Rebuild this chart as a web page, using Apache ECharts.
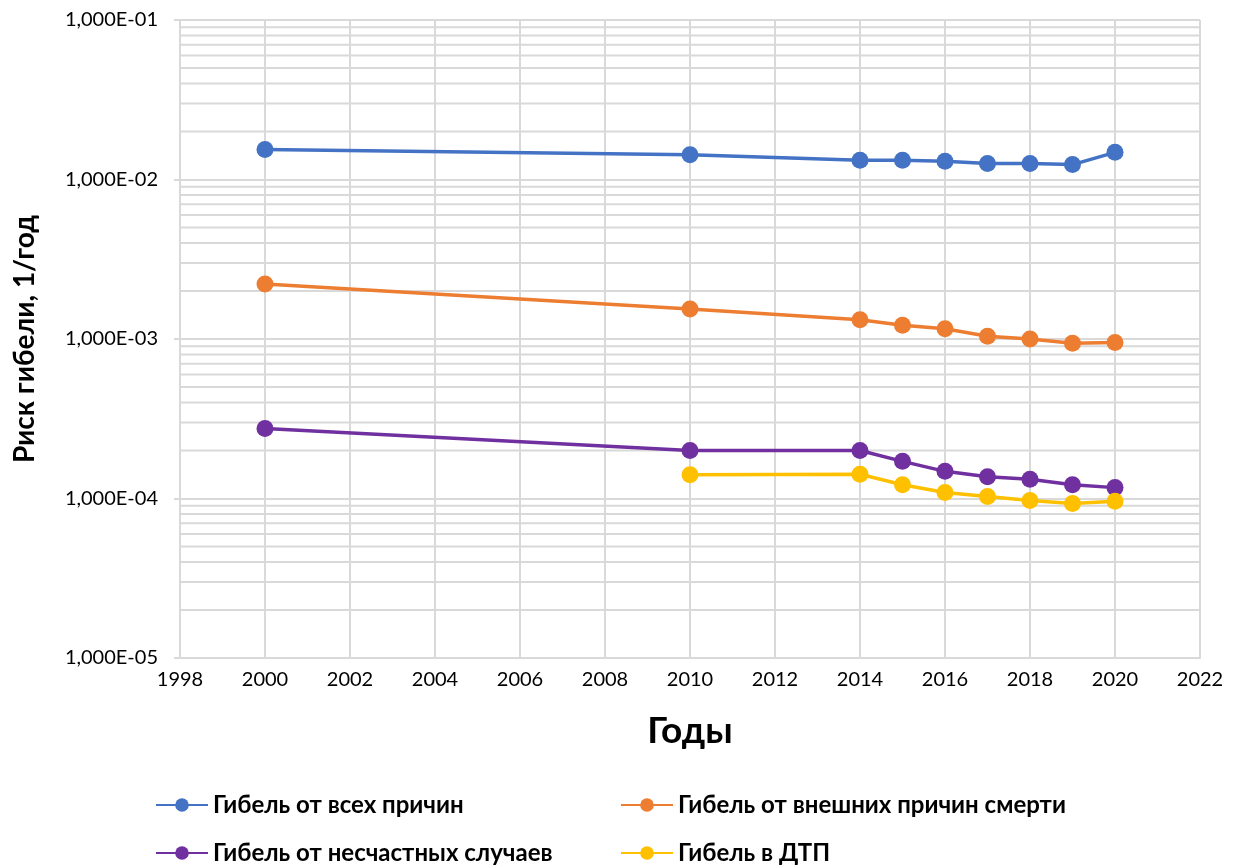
<!DOCTYPE html>
<html>
<head>
<meta charset="utf-8">
<title>Риск гибели</title>
<script src="https://cdn.jsdelivr.net/npm/echarts@6/dist/echarts.min.js"></script>
<style>
  html, body { margin: 0; padding: 0; background: #fff; }
  #chart { width: 1235px; height: 867px; }
</style>
</head>
<body>
<div id="chart"></div>
<script>
// Годы наблюдений
const years = [2000, 2010, 2014, 2015, 2016, 2017, 2018, 2019, 2020];
const yearsRoad = [2010, 2014, 2015, 2016, 2017, 2018, 2019, 2020];

// Риск гибели, 1/год
const allCauses = [1.54e-2, 1.43e-2, 1.32e-2, 1.32e-2, 1.30e-2, 1.26e-2, 1.26e-2, 1.24e-2, 1.48e-2];
const externalCauses = [2.21e-3, 1.54e-3, 1.32e-3, 1.22e-3, 1.16e-3, 1.04e-3, 1.00e-3, 9.4e-4, 9.5e-4];
const accidents = [2.75e-4, 2.00e-4, 2.00e-4, 1.71e-4, 1.48e-4, 1.37e-4, 1.32e-4, 1.22e-4, 1.17e-4];
const roadAccidents = [1.41e-4, 1.42e-4, 1.22e-4, 1.09e-4, 1.03e-4, 9.7e-5, 9.3e-5, 9.6e-5];

const seriesNames = [
  'Гибель от всех причин',
  'Гибель от внешних причин смерти',
  'Гибель от несчастных случаев',
  'Гибель в ДТП'
];
const seriesColors = ['#4472C4', '#ED7D31', '#7030A0', '#FFC000'];

// Промежуточные деления логарифмической шкалы (2…9 в каждой декаде)
const minorMultipliers = [2, 3, 4, 5, 6, 7, 8, 9];
const decades = [1e-5, 1e-4, 1e-3, 1e-2];

const X_MIN = 1998;
const X_MAX = 2022;

const FONT = 'Lato, "Open Sans", sans-serif';

function sciLabel(v) {
  const e = Math.round(Math.log10(v));
  const m = v / Math.pow(10, e);
  const exp = String(Math.abs(e)).padStart(2, '0');
  return m.toFixed(3).replace('.', ',') + 'E' + (e < 0 ? '-' : '+') + exp;
}

function pairs(xs, ys) {
  return xs.map((x, i) => [x, ys[i]]);
}

// Тонкие горизонтальные линии сетки между декадами
const minorValues = [];
decades.forEach(d => minorMultipliers.forEach(k => minorValues.push(+(k * d).toPrecision(3))));
const minorGridSeries = minorValues.map(v => ({
  name: 'minor-' + v,
  type: 'line',
  data: [[X_MIN, v], [X_MAX, v]],
  silent: true,
  showSymbol: false,
  symbol: 'none',
  lineStyle: { color: '#D9D9D9', width: 2 },
  emphasis: { disabled: true },
  tooltip: { show: false },
  z: 1,
  animation: false
}));

const lineSeries = [
  pairs(years, allCauses),
  pairs(years, externalCauses),
  pairs(years, accidents),
  pairs(yearsRoad, roadAccidents)
].map((data, i) => ({
  name: seriesNames[i],
  type: 'line',
  data: data,
  color: seriesColors[i],
  symbol: 'circle',
  symbolSize: 17,
  lineStyle: { width: 3.5, color: seriesColors[i] },
  itemStyle: { color: seriesColors[i] },
  z: 5,
  animation: false
}));

const legendPlaces = [
  { left: 155, top: 793 },
  { left: 620, top: 793 },
  { left: 155, top: 841 },
  { left: 620, top: 841 }
];

const chart = echarts.init(document.getElementById('chart'), null, { renderer: 'canvas' });

chart.setOption({
  backgroundColor: '#fff',
  animation: false,
  grid: { left: 180, right: 35, top: 20, bottom: 209 },
  legend: legendPlaces.map((p, i) => ({
    data: [seriesNames[i]],
    left: p.left,
    top: p.top,
    padding: 0,
    itemWidth: 52,
    itemHeight: 17,
    selectedMode: false,
    textStyle: { fontFamily: FONT, fontSize: 24, fontWeight: 'bold', color: '#000' }
  })),
  xAxis: {
    type: 'value',
    min: X_MIN,
    max: X_MAX,
    interval: 2,
    name: 'Годы',
    nameLocation: 'middle',
    nameGap: 55,
    nameTextStyle: { fontFamily: FONT, fontSize: 37, fontWeight: 'bold', color: '#000' },
    axisLine: { lineStyle: { color: '#D9D9D9', width: 2 } },
    axisTick: { show: false },
    axisLabel: { fontFamily: FONT, fontSize: 20, color: '#000', margin: 12, formatter: v => String(v) },
    splitLine: { show: true, lineStyle: { color: '#D9D9D9', width: 2 } }
  },
  yAxis: {
    type: 'log',
    logBase: 10,
    min: 1e-5,
    max: 1e-1,
    name: 'Риск гибели, 1/год',
    nameLocation: 'middle',
    nameGap: 141,
    nameTextStyle: { fontFamily: FONT, fontSize: 28, fontWeight: 'bold', color: '#000' },
    axisLine: { show: true, lineStyle: { color: '#D9D9D9', width: 2 } },
    axisTick: { show: true, length: 6, lineStyle: { color: '#D9D9D9', width: 2 } },
    axisLabel: { fontFamily: FONT, fontSize: 20, color: '#000', margin: 22, formatter: sciLabel },
    splitLine: { show: true, lineStyle: { color: '#D9D9D9', width: 2 } }
  },
  series: minorGridSeries.concat(lineSeries)
});
</script>
</body>
</html>
